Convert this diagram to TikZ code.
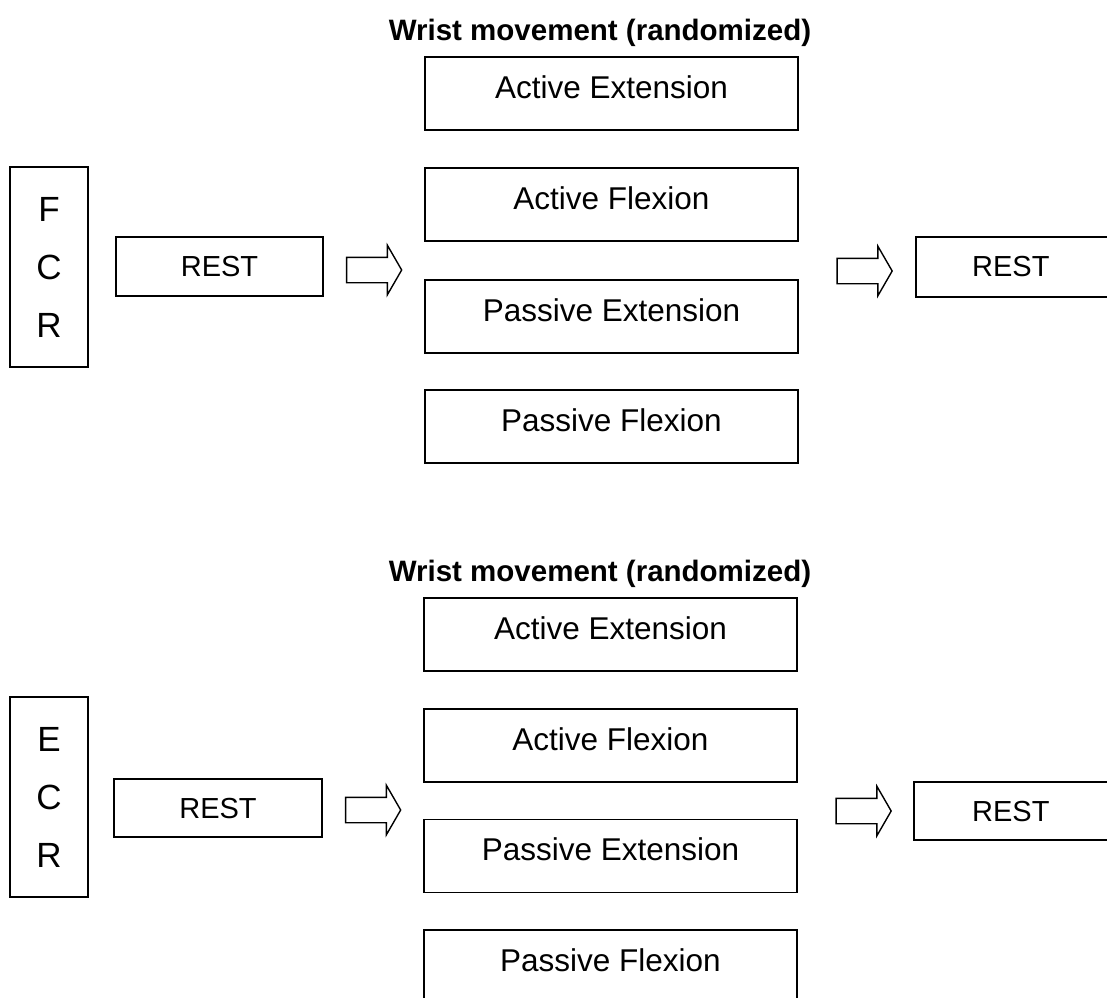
\documentclass[tikz,border=0pt]{standalone}
\usepackage{fontspec}
\setmainfont{Liberation Sans}
\usepackage{tikz}
\usetikzlibrary{shapes.arrows}

\begin{document}
\begin{tikzpicture}[
    x=1pt, y=-1pt,
    font=\fontsize{31.5}{38}\selectfont,
    box/.style={draw, line width=1.7pt, inner sep=0pt},
    mvbox/.style={box, minimum width=373pt, minimum height=73pt, text height=22.6pt, text depth=13pt},
    restbox/.style={box, minimum width=207pt, minimum height=59pt, font=\fontsize{29}{34}\selectfont},
    musclebox/.style={box, minimum width=78pt, minimum height=200pt, align=center, font=\fontsize{35}{58}\selectfont},
    heading/.style={anchor=base, font=\bfseries\fontsize{29.5}{35}\selectfont},
    hollow/.style={single arrow, draw, line width=1.4pt, inner xsep=0pt, inner ysep=12pt, minimum height=55pt, minimum width=48pt, single arrow head extend=12pt, single arrow tip angle=120}
]
\clip (0,0) rectangle (1107,997);
\fill[white] (0,0) rectangle (1107,997);
% FCR block
\node[heading] (title1) at (600,40) {Wrist movement (randomized)};
\node[mvbox] (actext1) at (611.5,93.5) {Active Extension};
\node[mvbox] (actflex1) at (611.5,204.5) {Active Flexion};
\node[mvbox] (pasext1) at (611.5,316.5) {Passive Extension};
\node[mvbox] (pasflex1) at (611.5,426.5) {Passive Flexion};
\node[musclebox] (fcr) at (49,267) {F\\C\\R};
\node[restbox] (rest1) at (219.5,266.5) {REST};
\node[hollow] (arrow1) at (370.5,270) {};
\node[hollow] (arrow2) at (861,271) {};
\node[restbox, anchor=west, minimum height=60pt] (rest2) at (915,267) {\hspace*{-17pt}REST};
% ECR block
\node[heading] (title2) at (600,581) {Wrist movement (randomized)};
\node[mvbox] (actext2) at (610.5,634.5) {Active Extension};
\node[mvbox] (actflex2) at (610.5,745.5) {Active Flexion};
\node[mvbox] (pasext2) at (610.5,856) {Passive Extension};
\node[mvbox] (pasflex2) at (610.5,966.5) {Passive Flexion};
\node[musclebox] (ecr) at (49,797) {E\\C\\R};
\node[restbox, minimum width=208pt, minimum height=58pt] (rest3) at (218,808) {REST};
\node[hollow] (arrow3) at (369.5,810) {};
\node[hollow] (arrow4) at (860,811) {};
\node[restbox, anchor=west, minimum height=58pt] (rest4) at (913,811) {\hspace*{-13pt}REST};
\end{tikzpicture}
\end{document}
